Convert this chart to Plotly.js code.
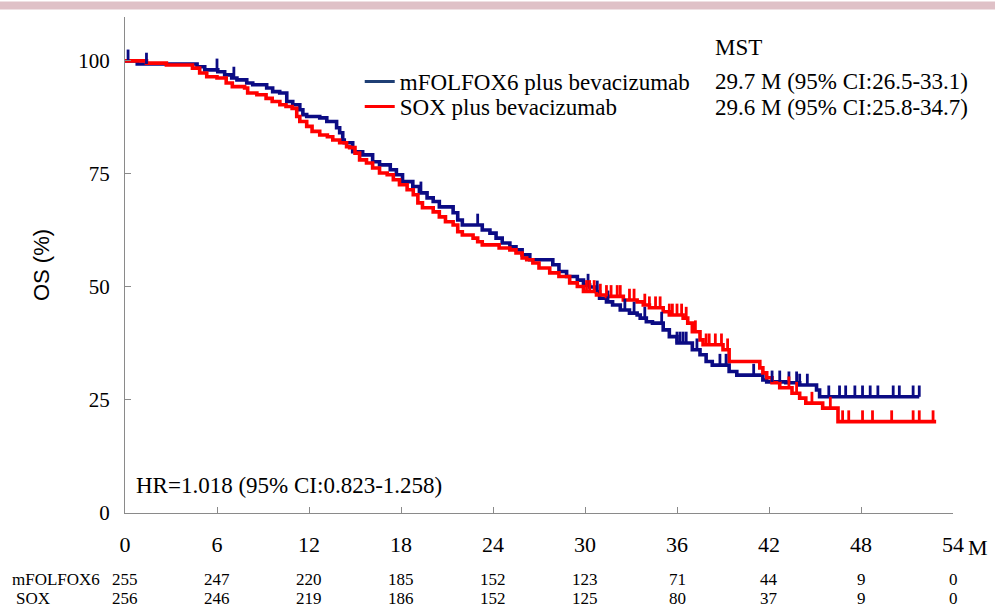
<!DOCTYPE html>
<html>
<head>
<meta charset="utf-8">
<script src="https://cdn.plot.ly/plotly-3.0.1.min.js"></script>
<style>html,body{margin:0;padding:0;background:#fff;}#chart{width:995px;height:608px;}</style>
</head>
<body>
<div id="chart"></div>
<script>
// ---- Data ----
const blueName = "mFOLFOX6 plus bevacizumab";
const redName = "SOX plus bevacizumab";
const blueT = [0.8, 4.7, 5.2, 6.05, 6.5, 6.96, 7.3, 7.94, 8.33, 9.24, 9.63, 10.09, 10.55, 10.94, 11.4, 11.6, 11.85, 12.7, 13.16, 13.8, 14.0, 14.2, 14.3, 14.85, 15.5, 16.15, 16.6, 17.3, 17.7, 18.1, 18.77, 19.2, 19.7, 20.1, 20.5, 21.4, 21.7, 22.0, 23.3, 23.8, 24.2, 24.6, 25.1, 25.5, 25.9, 26.4, 27.9, 28.3, 28.8, 29.5, 29.9, 30.3, 30.75, 30.95, 31.4, 31.8, 32.3, 32.9, 33.4, 33.6, 34.0, 34.4, 35.1, 35.5, 36.0, 37.0, 37.5, 37.9, 38.3, 39.4, 39.9, 41.6, 41.85, 43.1, 44.0, 45.1, 45.3];
const blueS = [99.3, 98.7, 98.0, 97.6, 96.9, 96.2, 95.8, 95.1, 94.7, 94.0, 93.2, 92.9, 91.0, 90.3, 89.2, 88.1, 87.7, 87.4, 86.6, 85.2, 84.1, 82.5, 81.9, 79.9, 79.2, 77.7, 77.0, 75.9, 74.8, 73.3, 72.2, 70.8, 69.7, 68.9, 67.7, 66.4, 64.8, 63.7, 62.6, 61.9, 60.8, 59.7, 58.9, 58.2, 57.1, 56.0, 54.9, 53.4, 52.3, 51.5, 50.4, 50.0, 48.9, 47.5, 46.7, 46.0, 44.9, 44.2, 43.8, 43.1, 42.3, 42.0, 40.5, 39.0, 37.6, 36.1, 35.0, 33.5, 32.7, 31.3, 30.5, 29.4, 29.0, 28.8, 28.3, 27.2, 25.7];
const blueEnd = 51.8;
const blueCensor = [0.2, 1.4, 6.0, 7.1, 19.3, 23.0, 30.2, 30.8, 31.5, 32.6, 33.2, 33.9, 35.0, 36.0, 36.2, 36.4, 36.6, 37.3, 38.8, 39.2, 41.0, 42.2, 42.7, 43.3, 43.8, 44.0, 44.5, 45.9, 46.6, 47.0, 47.6, 48.1, 48.6, 49.1, 50.1, 50.5, 51.4, 51.8];

const redT = [1.4, 2.7, 4.4, 4.87, 5.33, 6.0, 6.6, 7.0, 7.8, 8.0, 8.6, 9.2, 9.6, 10.1, 10.5, 10.9, 11.2, 11.4, 11.85, 12.2, 12.7, 13.2, 13.55, 14.0, 14.45, 14.65, 15.0, 15.3, 15.75, 16.15, 16.6, 17.1, 17.5, 17.9, 18.4, 18.8, 19.1, 19.4, 20.1, 20.5, 20.9, 21.4, 21.7, 22.0, 22.7, 23.0, 23.3, 24.4, 25.1, 25.5, 25.9, 26.2, 26.6, 27.0, 27.7, 28.3, 29.0, 29.5, 29.9, 30.75, 31.4, 32.5, 33.4, 33.8, 34.2, 35.1, 35.5, 36.4, 36.7, 37.0, 37.5, 37.7, 39.0, 39.4, 41.4, 41.6, 41.85, 42.2, 42.7, 43.5, 44.0, 44.4, 45.5, 46.5];
const redS = [99.5, 99.1, 98.4, 97.3, 96.5, 96.2, 95.1, 94.3, 94.0, 92.9, 92.5, 91.7, 91.0, 90.3, 89.9, 89.5, 87.7, 86.6, 85.5, 84.4, 83.6, 83.2, 82.5, 81.9, 81.0, 80.8, 79.6, 78.1, 77.4, 76.3, 75.2, 74.8, 73.7, 72.6, 71.5, 70.4, 68.6, 67.5, 66.6, 65.5, 64.4, 63.7, 62.2, 61.5, 60.8, 60.0, 59.3, 58.6, 58.2, 57.5, 56.4, 56.0, 55.3, 54.2, 53.1, 52.3, 50.9, 50.1, 49.0, 48.2, 47.9, 47.1, 46.7, 46.0, 45.4, 44.5, 43.8, 43.1, 42.0, 40.1, 38.3, 37.2, 36.1, 33.5, 32.1, 31.0, 29.9, 28.8, 27.7, 26.5, 25.4, 24.3, 23.2, 20.2];
const redEnd = 52.9;
const redCensor = [30.1, 30.3, 30.6, 31.0, 31.4, 31.7, 32.1, 32.3, 32.9, 33.2, 33.9, 34.2, 34.6, 34.9, 35.5, 35.7, 36.0, 36.3, 36.6, 37.2, 37.9, 38.1, 38.5, 38.9, 39.3, 43.3, 43.8, 44.8, 46.0, 46.8, 47.2, 48.1, 48.75, 50.0, 51.4, 51.8, 52.7];

const xTicks = [0, 6, 12, 18, 24, 30, 36, 42, 48, 54];
const yTicks = [0, 25, 50, 75, 100];
const riskRows = ["mFOLFOX6", "SOX"];
const riskBlue = [255, 247, 220, 185, 152, 123, 71, 44, 9, 0];
const riskRed = [256, 246, 219, 186, 152, 125, 80, 37, 9, 0];
const mstHeader = "MST";
const mstBlue = "29.7 M (95% CI:26.5-33.1)";
const mstRed = "29.6 M (95% CI:25.8-34.7)";
const hrText = "HR=1.018 (95% CI:0.823-1.258)";

// ---- Build ----
const BLUE = "#0b0b84", RED = "#ff0000", LEGBLUE = "#1f3f75";
const SERIF = "'Liberation Serif', 'Times New Roman', serif";

function stepXY(T, S, end) {
  return { x: [0].concat(T, [end]), y: [100].concat(S, [S[S.length - 1]]) };
}
function survAt(T, S, t) {
  let v = 100;
  for (let i = 0; i < T.length; i++) { if (T[i] <= t) v = S[i]; }
  return v;
}
function censorTrace(T, S, C, color) {
  return {
    x: C, y: C.map(t => survAt(T, S, t)), mode: "markers", type: "scatter",
    marker: { size: 1, color: color, opacity: 0 }, showlegend: false, hoverinfo: "skip",
    error_y: { type: "data", symmetric: false, array: C.map(() => 2.5), arrayminus: C.map(() => 0),
               color: color, thickness: 2.8, width: 0 }
  };
}
const b = stepXY(blueT, blueS, blueEnd);
const r = stepXY(redT, redS, redEnd);

const data = [
  { x: b.x, y: b.y, type: "scatter", mode: "lines", line: { shape: "hv", color: BLUE, width: 3.6 }, showlegend: false, hoverinfo: "skip" },
  { x: r.x, y: r.y, type: "scatter", mode: "lines", line: { shape: "hv", color: RED, width: 3.6 }, showlegend: false, hoverinfo: "skip" },
  censorTrace(blueT, blueS, blueCensor, BLUE),
  censorTrace(redT, redS, redCensor, RED),
  { x: [null], y: [null], type: "scatter", mode: "lines", name: blueName, legend: "legend", line: { color: LEGBLUE, width: 3 } },
  { x: [null], y: [null], type: "scatter", mode: "lines", name: redName, legend: "legend2", line: { color: RED, width: 3 } }
];

const txt = (size) => ({ family: SERIF, size: size, color: "#000" });
const annotations = [];
annotations.push({ xref: "paper", yref: "paper", x: 0.71, y: 0.9395, text: mstHeader, showarrow: false, xanchor: "left", yanchor: "middle", font: txt(23) });
annotations.push({ xref: "paper", yref: "paper", x: 0.71, y: 0.869, text: mstBlue, showarrow: false, xanchor: "left", yanchor: "middle", font: txt(23) });
annotations.push({ xref: "paper", yref: "paper", x: 0.71, y: 0.8185, text: mstRed, showarrow: false, xanchor: "left", yanchor: "middle", font: txt(23) });
annotations.push({ xref: "paper", yref: "paper", x: 0.011, y: 0.056, text: hrText, showarrow: false, xanchor: "left", yanchor: "middle", font: txt(23) });
annotations.push({ xref: "x", yref: "paper", x: 54, y: 0, yshift: -34, xshift: 13, text: "M", showarrow: false, xanchor: "left", yanchor: "middle", font: txt(22) });
// risk table
const rowShift = [-66, -85];
const rowLabelX = [10, 14];
riskRows.forEach((lab, i) => {
  annotations.push({ xref: "paper", yref: "paper", x: 0, y: 0, xshift: rowLabelX[i] - 125.3, yshift: rowShift[i], text: lab, showarrow: false, xanchor: "left", yanchor: "middle", font: txt(17) });
});
[riskBlue, riskRed].forEach((row, i) => {
  row.forEach((v, j) => {
    annotations.push({ xref: "x", yref: "paper", x: xTicks[j], y: 0, yshift: rowShift[i], text: String(v), showarrow: false, xanchor: "center", yanchor: "middle", font: txt(17) });
  });
});

const legendBase = { x: 0.2835, xanchor: "left", yanchor: "top", bgcolor: "rgba(0,0,0,0)", borderwidth: 0, font: txt(23) };
const layout = {
  width: 995, height: 608,
  margin: { l: 125.3, r: 41.7, t: 17, b: 95 },
  paper_bgcolor: "#fff", plot_bgcolor: "#fff",
  showlegend: true,
  legend: Object.assign({}, legendBase, { y: 0.9133 }),
  legend2: Object.assign({}, legendBase, { y: 0.8629 }),
  xaxis: { range: [0, 54], tickvals: xTicks, ticktext: xTicks.map(String), ticks: "inside", ticklen: 6, tickcolor: "#8a8a8a",
           showline: true, linecolor: "#8a8a8a", linewidth: 1, showgrid: false, zeroline: false,
           tickfont: txt(22), ticklabelstandoff: 12, fixedrange: true },
  yaxis: { range: [0, 109.7], tickvals: yTicks, ticktext: yTicks.map(String), ticks: "inside", ticklen: 6, tickcolor: "#8a8a8a",
           showline: true, linecolor: "#8a8a8a", linewidth: 1, showgrid: false, zeroline: false,
           tickfont: txt(21), ticklabelstandoff: 10, fixedrange: true,
           title: { text: "OS (%)", font: { family: "'Liberation Sans', Arial, sans-serif", size: 22, color: "#000" }, standoff: 22 } },
  shapes: [
    { type: "rect", xref: "paper", yref: "paper", x0: -0.16, x1: 1.06, y0: 1.0151, y1: 1.0312, fillcolor: "#dfc1c7", line: { width: 0 }, layer: "below" }
  ],
  annotations: annotations
};

Plotly.newPlot("chart", data, layout, { displayModeBar: false, staticPlot: true });
</script>
</body>
</html>
